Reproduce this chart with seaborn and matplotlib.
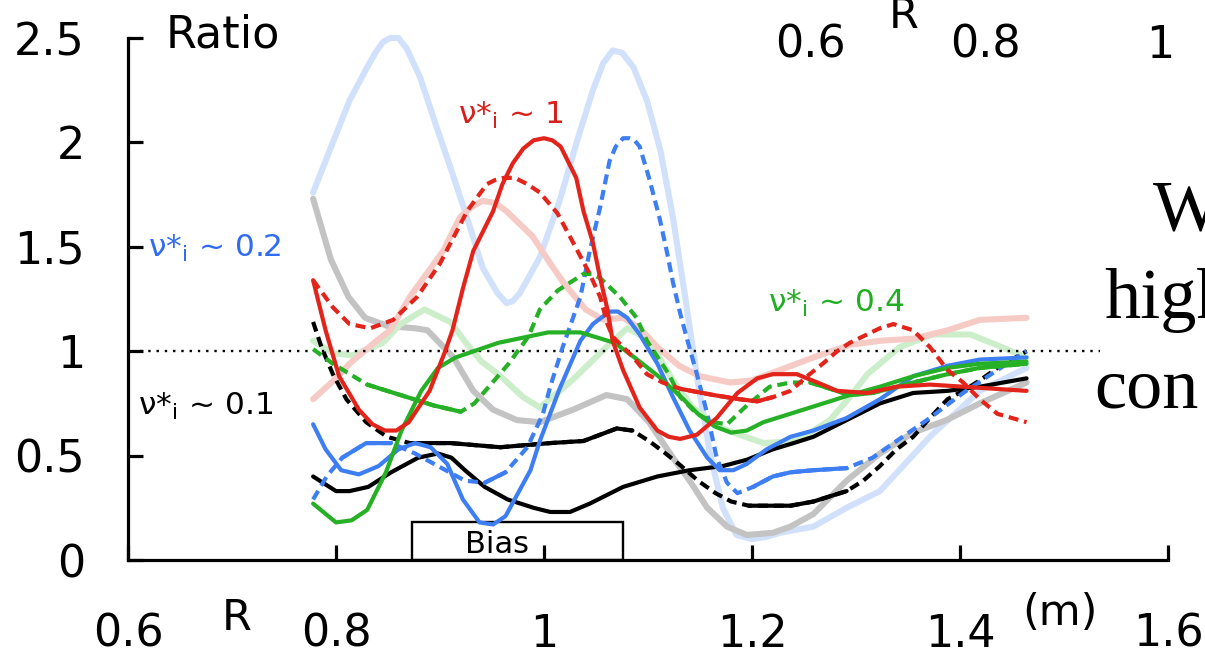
import matplotlib
matplotlib.use("Agg")
import matplotlib.pyplot as plt
import seaborn as sns
import pandas as pd
from matplotlib.patches import Rectangle

# ---------------- profile data: ratio vs major radius R (m) ----------------
# faint reference profiles
r_blue_pale = [0.778, 0.797, 0.813, 0.830, 0.838, 0.845, 0.852, 0.860, 0.868, 0.881, 0.897, 0.910,
               0.926, 0.941, 0.955, 0.964, 0.970, 0.977, 0.996, 1.015, 1.032, 1.047, 1.057, 1.066,
               1.075, 1.086, 1.099, 1.112, 1.124, 1.136, 1.148, 1.160, 1.172, 1.185, 1.200, 1.213,
               1.227, 1.259, 1.291, 1.323, 1.371, 1.419, 1.464]
ratio_blue_pale = [1.76, 2.00, 2.20, 2.36, 2.43, 2.48, 2.50, 2.50, 2.45, 2.31, 2.07, 1.88,
                   1.64, 1.40, 1.28, 1.23, 1.24, 1.28, 1.45, 1.72, 2.01, 2.25, 2.38, 2.44,
                   2.43, 2.36, 2.20, 1.96, 1.64, 1.25, 0.85, 0.50, 0.25, 0.12, 0.10, 0.11,
                   0.13, 0.16, 0.25, 0.33, 0.59, 0.81, 0.92]

r_gray_pale = [0.778, 0.795, 0.812, 0.828, 0.850, 0.876, 0.888, 0.913, 0.932, 0.951, 0.974, 0.996,
               1.028, 1.060, 1.080, 1.101, 1.124, 1.140, 1.157, 1.176, 1.195, 1.220, 1.237, 1.259,
               1.291, 1.323, 1.355, 1.387, 1.419, 1.464]
ratio_gray_pale = [1.73, 1.44, 1.26, 1.16, 1.12, 1.11, 1.10, 0.97, 0.81, 0.72, 0.67, 0.66,
                   0.72, 0.79, 0.77, 0.66, 0.49, 0.38, 0.25, 0.16, 0.12, 0.13, 0.16, 0.22,
                   0.38, 0.51, 0.61, 0.67, 0.75, 0.85]

r_green_pale = [0.778, 0.797, 0.816, 0.845, 0.862, 0.885, 0.910, 0.925, 0.940, 0.956, 0.980, 0.996,
                1.027, 1.060, 1.080, 1.100, 1.124, 1.143, 1.166, 1.188, 1.211, 1.243, 1.275, 1.294,
                1.311, 1.342, 1.374, 1.410, 1.440, 1.464]
ratio_green_pale = [1.05, 0.99, 0.98, 1.04, 1.13, 1.20, 1.14, 1.04, 0.95, 0.89, 0.78, 0.73,
                    0.86, 1.02, 1.11, 1.06, 0.86, 0.73, 0.64, 0.60, 0.56, 0.57, 0.67, 0.78,
                    0.89, 1.02, 1.08, 1.08, 1.02, 0.97]

r_red_pale = [0.778, 0.800, 0.813, 0.839, 0.852, 0.871, 0.903, 0.919, 0.930, 0.941, 0.953, 0.964,
              0.989, 1.006, 1.020, 1.040, 1.057, 1.076, 1.092, 1.109, 1.130, 1.150, 1.179, 1.200,
              1.227, 1.259, 1.294, 1.323, 1.355, 1.388, 1.419, 1.464]
ratio_red_pale = [0.77, 0.87, 0.94, 1.05, 1.10, 1.26, 1.48, 1.64, 1.69, 1.72, 1.71, 1.67,
                  1.55, 1.42, 1.32, 1.20, 1.15, 1.16, 1.11, 1.02, 0.93, 0.88, 0.85, 0.86,
                  0.91, 0.97, 1.03, 1.05, 1.06, 1.10, 1.15, 1.16]

# nu*_i ~ 1 (red)
r_red_solid = [0.778, 0.790, 0.803, 0.822, 0.835, 0.847, 0.858, 0.870, 0.890, 0.905, 0.912, 0.922,
               0.932, 0.951, 0.960, 0.970, 0.980, 0.990, 1.000, 1.008, 1.016, 1.031, 1.038, 1.047,
               1.054, 1.061, 1.066, 1.076, 1.092, 1.109, 1.120, 1.131, 1.147, 1.166, 1.186, 1.205,
               1.220, 1.243, 1.263, 1.282, 1.311, 1.339, 1.371, 1.403, 1.464]
ratio_red_solid = [1.34, 1.10, 0.88, 0.72, 0.65, 0.62, 0.62, 0.66, 0.81, 1.00, 1.10, 1.30,
                   1.48, 1.67, 1.80, 1.90, 1.97, 2.01, 2.02, 2.01, 1.98, 1.83, 1.67, 1.52,
                   1.35, 1.20, 1.05, 0.91, 0.73, 0.62, 0.59, 0.58, 0.60, 0.68, 0.80, 0.87,
                   0.89, 0.89, 0.85, 0.81, 0.80, 0.83, 0.84, 0.83, 0.81]

r_red_dash = [0.778, 0.797, 0.813, 0.833, 0.855, 0.878, 0.900, 0.926, 0.945, 0.953, 0.961, 0.972,
              0.984, 0.996, 1.013, 1.028, 1.044, 1.054, 1.061, 1.066, 1.086, 1.099, 1.114, 1.131,
              1.163, 1.188, 1.205, 1.220, 1.237, 1.253, 1.268, 1.282, 1.294, 1.323, 1.336, 1.355,
              1.371, 1.388, 1.403, 1.419, 1.436, 1.464]
ratio_red_dash = [1.34, 1.21, 1.13, 1.11, 1.15, 1.26, 1.42, 1.67, 1.80, 1.82, 1.83, 1.83,
                  1.80, 1.76, 1.66, 1.52, 1.37, 1.26, 1.13, 1.07, 0.97, 0.89, 0.85, 0.82,
                  0.79, 0.77, 0.76, 0.78, 0.81, 0.88, 0.94, 1.00, 1.04, 1.11, 1.13, 1.10,
                  1.02, 0.91, 0.85, 0.77, 0.70, 0.66]

# nu*_i ~ 0.4 (green)
r_green_solid = [0.778, 0.800, 0.815, 0.830, 0.848, 0.863, 0.882, 0.898, 0.915, 0.956, 1.004, 1.035,
                 1.068, 1.087, 1.110, 1.132, 1.148, 1.164, 1.180, 1.195, 1.211, 1.243, 1.275, 1.294,
                 1.323, 1.355, 1.388, 1.419, 1.464]
ratio_green_solid = [0.27, 0.18, 0.19, 0.24, 0.42, 0.62, 0.81, 0.92, 0.97, 1.04, 1.09, 1.09,
                     1.04, 0.97, 0.88, 0.78, 0.70, 0.64, 0.61, 0.62, 0.66, 0.71, 0.76, 0.79,
                     0.83, 0.88, 0.92, 0.94, 0.95]

r_green_dash = [0.778, 0.797, 0.830, 0.862, 0.894, 0.920, 0.933, 0.947, 0.966, 0.985, 0.996, 1.013,
                1.038, 1.046, 1.054, 1.073, 1.089, 1.099, 1.120, 1.131, 1.147, 1.163, 1.176, 1.195,
                1.217, 1.237, 1.256, 1.275, 1.294, 1.316, 1.355, 1.388, 1.419, 1.464]
ratio_green_dash = [1.01, 0.94, 0.84, 0.79, 0.74, 0.71, 0.75, 0.83, 0.94, 1.07, 1.20, 1.29,
                    1.37, 1.37, 1.35, 1.26, 1.16, 1.05, 0.89, 0.78, 0.70, 0.66, 0.65, 0.74,
                    0.83, 0.85, 0.85, 0.82, 0.79, 0.80, 0.85, 0.89, 0.92, 0.94]

# nu*_i ~ 0.2 (blue)
r_blue_solid = [0.778, 0.790, 0.805, 0.822, 0.841, 0.860, 0.876, 0.891, 0.907, 0.922, 0.938, 0.951,
                0.963, 0.987, 0.996, 1.015, 1.035, 1.047, 1.063, 1.071, 1.080, 1.092, 1.109, 1.124,
                1.140, 1.157, 1.169, 1.182, 1.195, 1.214, 1.237, 1.259, 1.291, 1.323, 1.355, 1.388,
                1.419, 1.464]
ratio_blue_solid = [0.65, 0.53, 0.43, 0.41, 0.45, 0.53, 0.56, 0.54, 0.46, 0.29, 0.18, 0.17,
                    0.21, 0.43, 0.57, 0.82, 1.05, 1.13, 1.19, 1.19, 1.16, 1.08, 0.94, 0.78,
                    0.62, 0.49, 0.43, 0.43, 0.46, 0.53, 0.59, 0.62, 0.68, 0.77, 0.88, 0.93,
                    0.96, 0.97]

r_blue_dash = [0.778, 0.791, 0.806, 0.829, 0.853, 0.876, 0.898, 0.924, 0.943, 0.963, 0.984, 0.999,
               1.006, 1.018, 1.035, 1.044, 1.054, 1.063, 1.069, 1.076, 1.082, 1.087, 1.092, 1.101,
               1.111, 1.118, 1.124, 1.131, 1.138, 1.147, 1.157, 1.166, 1.176, 1.186, 1.201, 1.220,
               1.237, 1.259, 1.291, 1.316, 1.339, 1.371, 1.403, 1.436, 1.464]
ratio_blue_dash = [0.29, 0.40, 0.49, 0.56, 0.56, 0.51, 0.45, 0.38, 0.37, 0.42, 0.54, 0.70,
                   0.83, 1.02, 1.26, 1.48, 1.69, 1.91, 1.98, 2.02, 2.02, 2.01, 1.98, 1.83,
                   1.64, 1.48, 1.33, 1.18, 1.05, 0.89, 0.70, 0.49, 0.37, 0.32, 0.35, 0.40,
                   0.42, 0.43, 0.44, 0.49, 0.57, 0.68, 0.80, 0.91, 1.00]

# nu*_i ~ 0.1 (black)
r_black_solid = [0.778, 0.800, 0.813, 0.831, 0.853, 0.879, 0.898, 0.911, 0.924, 0.943, 0.965, 0.990,
                 1.006, 1.025, 1.044, 1.076, 1.109, 1.140, 1.172, 1.195, 1.220, 1.240, 1.259, 1.291,
                 1.323, 1.355, 1.388, 1.419, 1.464]
ratio_black_solid = [0.40, 0.33, 0.33, 0.35, 0.42, 0.49, 0.51, 0.49, 0.43, 0.35, 0.29, 0.25,
                     0.23, 0.23, 0.27, 0.35, 0.40, 0.43, 0.45, 0.48, 0.53, 0.56, 0.59, 0.67,
                     0.75, 0.80, 0.81, 0.83, 0.87]

r_black_dash = [0.778, 0.786, 0.797, 0.810, 0.829, 0.849, 0.871, 0.910, 0.958, 1.006, 1.038, 1.070,
                1.085, 1.101, 1.117, 1.132, 1.148, 1.165, 1.180, 1.197, 1.237, 1.259, 1.291, 1.307,
                1.323, 1.339, 1.355, 1.371, 1.388, 1.403, 1.419, 1.436, 1.464]
ratio_black_dash = [1.14, 1.02, 0.89, 0.77, 0.66, 0.59, 0.56, 0.56, 0.54, 0.56, 0.57, 0.63,
                    0.62, 0.57, 0.51, 0.45, 0.38, 0.32, 0.28, 0.26, 0.26, 0.28, 0.33, 0.38,
                    0.45, 0.53, 0.59, 0.68, 0.77, 0.81, 0.86, 0.92, 1.00]

# axes ticks and annotations
x_ticks = [0.6, 0.8, 1.0, 1.2, 1.4, 1.6]
x_tick_labels = ["0.6", "0.8", "1", "1.2", "1.4", "1.6"]
y_ticks = [0.0, 0.5, 1.0, 1.5, 2.0, 2.5]
y_tick_labels = ["0", "0.5", "1", "1.5", "2", "2.5"]
bias_window = [0.873, 1.076]
bias_height = 0.18
unity_span = [0.612, 1.535]

# ---------------- styling ----------------
BLACK = "#000000"
BLUE = "#3d7ef3"
GREEN = "#25b025"
RED = "#e2241b"
PALE = {"blue": "#d2e1fb", "gray": "#c3c3c3", "green": "#cdeecb", "red": "#f6cbc5"}

LW = 3.0
LW_PALE = 4.4
DASH = (0, (2.4, 1.4))

sns.set_theme(style="white")
plt.rcParams["font.family"] = ["DejaVu Sans"]
plt.rcParams["mathtext.fontset"] = "dejavusans"
for key in ("text.color", "axes.labelcolor", "xtick.color", "ytick.color", "axes.edgecolor"):
    plt.rcParams[key] = BLACK

fig = plt.figure(figsize=(12.05, 6.55), dpi=100)
ax = fig.add_axes([128 / 1205, 95 / 655, 1040 / 1205, 2.6 * 208.8 / 655])


def draw(r, v, color, lw, ls="-", solid_spans=(), z=3):
    df = pd.DataFrame({"R": r, "ratio": v})
    sns.lineplot(data=df, x="R", y="ratio", ax=ax, color=color, linewidth=lw,
                 linestyle=ls, estimator=None, sort=False, zorder=z,
                 solid_joinstyle="round", dash_joinstyle="round", dash_capstyle="butt")
    for lo, hi in solid_spans:
        part = df[(df["R"] >= lo) & (df["R"] <= hi)]
        if len(part) > 1:
            sns.lineplot(data=part, x="R", y="ratio", ax=ax, color=color, linewidth=lw,
                         estimator=None, sort=False, zorder=z, solid_joinstyle="round")


# faint profiles underneath
draw(r_blue_pale, ratio_blue_pale, PALE["blue"], LW_PALE, z=1)
draw(r_gray_pale, ratio_gray_pale, PALE["gray"], LW_PALE, z=1)
draw(r_green_pale, ratio_green_pale, PALE["green"], LW_PALE, z=1)
draw(r_red_pale, ratio_red_pale, PALE["red"], LW_PALE, z=1)

# main profiles
draw(r_black_dash, ratio_black_dash, BLACK, LW, DASH, [(0.86, 1.09), (1.19, 1.30)])
draw(r_black_solid, ratio_black_solid, BLACK, LW)
draw(r_blue_dash, ratio_blue_dash, BLUE, LW, DASH, [(0.80, 0.86), (0.94, 0.98), (1.19, 1.31)])
draw(r_blue_solid, ratio_blue_solid, BLUE, LW)
draw(r_green_dash, ratio_green_dash, GREEN, LW, DASH, [(0.80, 0.93), (1.24, 1.47)])
draw(r_green_solid, ratio_green_solid, GREEN, LW)
draw(r_red_dash, ratio_red_dash, RED, LW, DASH, [(1.12, 1.22)])
draw(r_red_solid, ratio_red_solid, RED, LW)

# unity reference and bias window
ax.hlines(1.0, unity_span[0], unity_span[1], color=BLACK, linewidth=1.7,
          linestyle=(0, (1, 2.5)), zorder=2)
ax.add_patch(Rectangle((bias_window[0], 0), bias_window[1] - bias_window[0], bias_height,
                       facecolor="white", edgecolor=BLACK, linewidth=1.7, zorder=0.5))
ax.text(0.955, 0.033, "Bias", fontsize=22, ha="center", va="baseline", zorder=0.6)

# axes frame
ax.set_xlim(0.6, 1.6)
ax.set_ylim(0, 2.6)
for side in ("top", "right"):
    ax.spines[side].set_visible(False)
for side in ("left", "bottom"):
    ax.spines[side].set_linewidth(2.3)
    ax.spines[side].set_color(BLACK)
ax.spines["left"].set_bounds(0, 2.5)
ax.set_xticks(x_ticks, labels=x_tick_labels)
ax.set_yticks(y_ticks, labels=y_tick_labels)
ax.tick_params(axis="both", which="major", direction="in", length=11, width=2.3,
               labelsize=32, colors=BLACK, bottom=True, left=True, top=False, right=False)
ax.tick_params(axis="y", pad=31)
ax.tick_params(axis="x", pad=38)
ax.set_xlabel("")
ax.set_ylabel("")
ax.grid(False)

ax.text(0.636, 2.455, "Ratio", fontsize=32, ha="left", va="baseline", clip_on=False)

# collisionality labels
nu = "ν*$_{\\mathregular{i}}$ ~ "
ax.text(0.619, 1.45, nu + "0.2", color="#2f6cf0", fontsize=22.5, ha="left", va="baseline")
ax.text(0.917, 2.09, nu + "1", color="#d8201a", fontsize=22.5, ha="left", va="baseline")
ax.text(1.215, 1.187, nu + "0.4", color="#22ae22", fontsize=22.5, ha="left", va="baseline")
ax.text(0.610, 0.694, nu + "0.1", color=BLACK, fontsize=22.5, ha="left", va="baseline")

# axis name pieces
fig.text(237 / 1205, 1 - 630 / 655, "R", fontsize=31, ha="center", va="baseline")
fig.text(1060 / 1205, 1 - 625 / 655, "(m)", fontsize=31, ha="center", va="baseline")

# neighbouring panel labels along the top edge
fig.text(810 / 1205, 1 - 58 / 655, "0.6", fontsize=32, ha="center", va="baseline")
fig.text(904 / 1205, 1 - 28 / 655, "R", fontsize=31, ha="center", va="baseline")
fig.text(985 / 1205, 1 - 58 / 655, "0.8", fontsize=32, ha="center", va="baseline")
fig.text(1160 / 1205, 1 - 58 / 655, "1", fontsize=32, ha="center", va="baseline")

# side caption
serif = ["Liberation Serif", "DejaVu Serif"]
fig.text(1153 / 1205, 1 - 230 / 655, "W", fontsize=52, family=serif, color=BLACK,
         ha="left", va="baseline")
fig.text(1104 / 1205, 1 - 318 / 655, "high", fontsize=52, family=serif, color=BLACK,
         ha="left", va="baseline")
fig.text(1094 / 1205, 1 - 408 / 655, "con", fontsize=52, family=serif, color=BLACK,
         ha="left", va="baseline")

fig.savefig("out.png", dpi=100, facecolor="white")
